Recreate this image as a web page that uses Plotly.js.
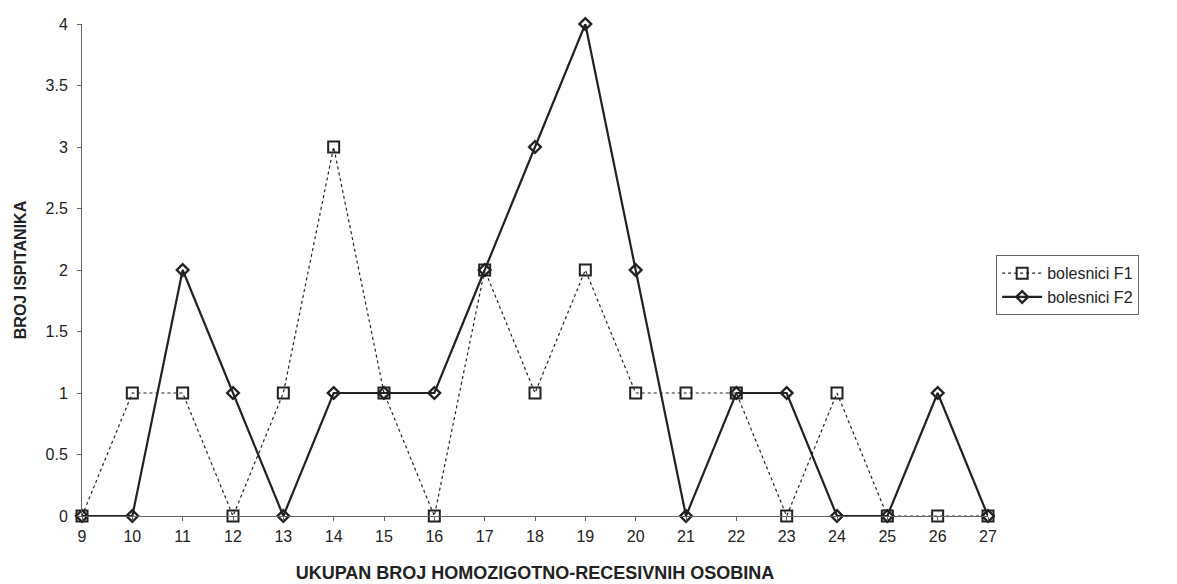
<!DOCTYPE html>
<html>
<head>
<meta charset="utf-8">
<script src="https://cdn.plot.ly/plotly-3.0.1.min.js"></script>
<style>html,body{margin:0;padding:0;background:#fff;}#chart{width:1177px;height:584px;}</style>
</head>
<body>
<div id="chart"></div>
<script>
const categories = [9,10,11,12,13,14,15,16,17,18,19,20,21,22,23,24,25,26,27];
const f1Values = [0,1,1,0,1,3,1,0,2,1,2,1,1,1,0,1,0,0,0];
const f2Values = [0,0,2,1,0,1,1,1,2,3,4,2,0,1,1,0,0,1,0];
const yTicks = [0,0.5,1,1.5,2,2.5,3,3.5,4];

const traces = [
  {x: categories, y: f1Values, name: 'bolesnici F1', mode: 'lines+markers', cliponaxis: false,
   line: {color: '#222', width: 1.2, dash: 'dot'},
   marker: {symbol: 'square-open', size: 11, color: '#222', line: {width: 2, color: '#222'}}},
  {x: categories, y: f2Values, name: 'bolesnici F2', mode: 'lines+markers', cliponaxis: false,
   line: {color: '#222', width: 2.2},
   marker: {symbol: 'diamond-open', size: 9, color: '#222', line: {width: 2.4, color: '#222'}}}
];

const layout = {
  width: 1177, height: 584,
  margin: {l: 82, r: 189, t: 24, b: 68},
  paper_bgcolor: '#fff', plot_bgcolor: '#fff',
  font: {family: 'Liberation Sans, Arial, sans-serif', color: '#222', size: 16},
  showlegend: true,
  legend: {x: 1.009, y: 0.53, xanchor: 'left', yanchor: 'top', bordercolor: '#666', borderwidth: 1,
           font: {size: 16}, bgcolor: '#fff', tracegroupgap: 0, itemwidth: 40},
  xaxis: {range: [9, 27], tickvals: categories, ticktext: categories.map(String),
          showgrid: false, zeroline: false, showline: true, linecolor: '#666', linewidth: 1,
          ticks: 'outside', ticklen: 4, tickcolor: '#666', ticklabelstandoff: 2,
          title: {text: '<b>UKUPAN BROJ HOMOZIGOTNO-RECESIVNIH OSOBINA</b>', font: {size: 18}, standoff: 22}},
  yaxis: {range: [0, 4], tickvals: yTicks, ticktext: yTicks.map(String),
          showgrid: false, zeroline: false, showline: true, linecolor: '#666', linewidth: 1,
          ticks: 'outside', ticklen: 4, tickcolor: '#666', ticklabelstandoff: 6,
          title: {text: '<b>BROJ ISPITANIKA</b>', font: {size: 16}, standoff: 14}}
};

Plotly.newPlot('chart', traces, layout, {displayModeBar: false, staticPlot: true});
</script>
</body>
</html>
